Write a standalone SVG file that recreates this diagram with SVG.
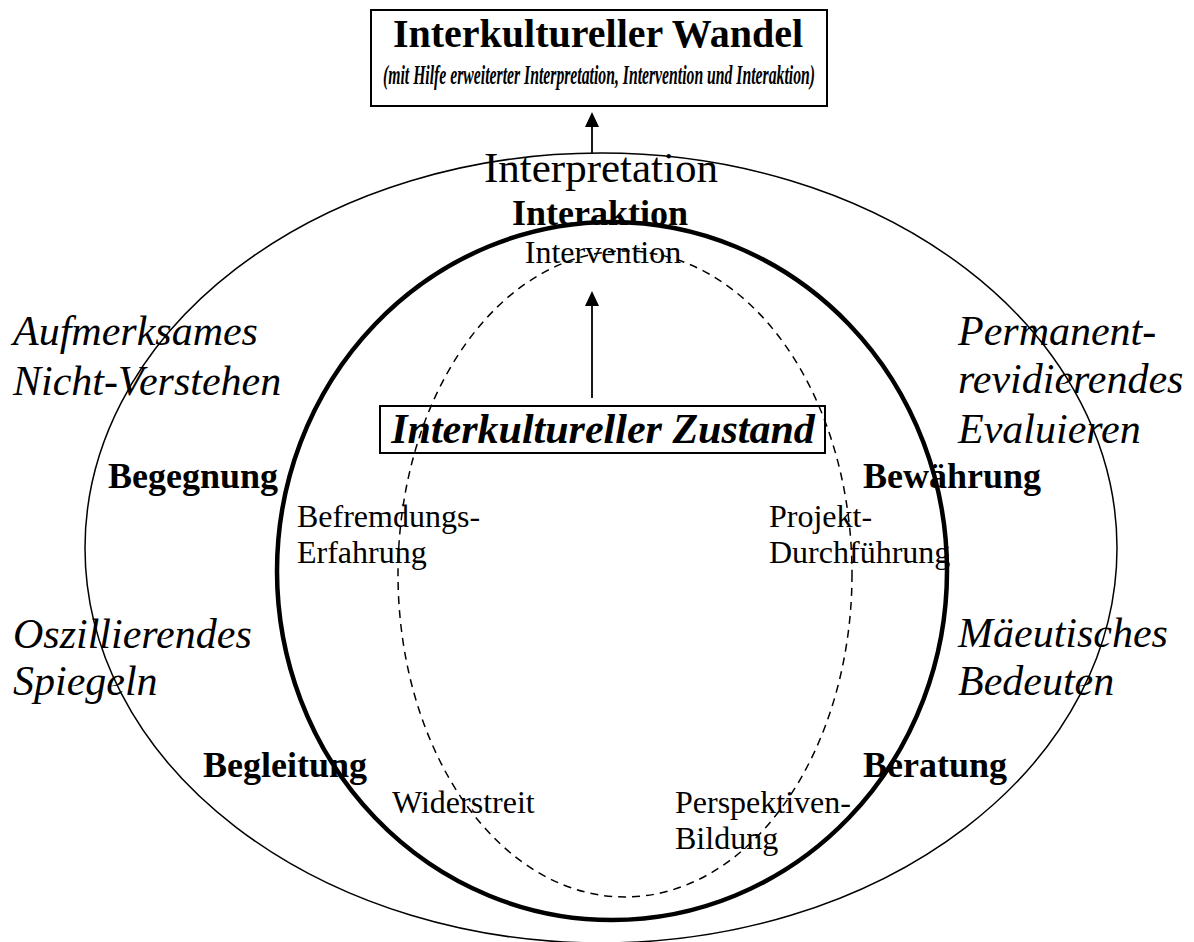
<svg xmlns="http://www.w3.org/2000/svg" width="1194" height="942" viewBox="0 0 1194 942">
<style>
text{font-family:"Liberation Serif","Times New Roman",serif;fill:#000}
.b{font-weight:bold}
.i{font-style:italic}
.big{font-size:42px}
.lab{font-size:36px;font-weight:bold}
.reg{font-size:32px}
.line{fill:none;stroke:#000}
</style>
<g id="shapes">
<ellipse id="outer" class="line" cx="601" cy="548" rx="516" ry="395" stroke-width="1.5"/>
<ellipse id="inner" class="line" cx="612" cy="571" rx="335" ry="349" stroke-width="4.5"/>
<ellipse id="dashed" class="line" cx="625" cy="574" rx="227" ry="323" stroke-width="1.5" stroke-dasharray="8,6"/>
</g>
<g id="connectors">
<line class="line" x1="592" y1="153" x2="592" y2="122" stroke-width="1.8"/>
<polygon points="592,112 585,127 599,127" fill="#000"/>
<line class="line" x1="592" y1="398" x2="592" y2="302" stroke-width="1.8"/>
<polygon points="592,291 585,306 599,306" fill="#000"/>
</g>
<g id="title">
<rect x="371" y="10" width="456" height="96" fill="#fff" stroke="#000" stroke-width="2"/>
<text x="598" y="47" text-anchor="middle" class="b" font-size="40">Interkultureller Wandel</text>
<text x="383" y="84" class="b i" font-size="28" textLength="432" lengthAdjust="spacingAndGlyphs">(mit Hilfe erweiterter Interpretation, Intervention und Interaktion)</text>
</g>
<g id="center">
<text x="601" y="182" text-anchor="middle" font-size="43">Interpretation</text>
<text x="600" y="225" text-anchor="middle" class="lab">Interaktion</text>
<text x="603" y="263" text-anchor="middle" class="reg">Intervention</text>
</g>
<g id="zustand">
<rect x="380" y="406" width="445" height="47" fill="none" stroke="#000" stroke-width="2"/>
<text x="603" y="443" text-anchor="middle" class="b i" font-size="42">Interkultureller Zustand</text>
</g>
<g id="left-top">
<text x="13" y="345" class="i big">Aufmerksames</text>
<text x="13" y="395" class="i big">Nicht-Verstehen</text>
</g>
<g id="right-top">
<text x="958" y="345" class="i big">Permanent-</text>
<text x="958" y="393" class="i big">revidierendes</text>
<text x="958" y="443" class="i big">Evaluieren</text>
</g>
<g id="left-mid">
<text x="13" y="648" class="i big">Oszillierendes</text>
<text x="13" y="695" class="i big">Spiegeln</text>
</g>
<g id="right-mid">
<text x="958" y="647" class="i big">Mäeutisches</text>
<text x="958" y="695" class="i big">Bedeuten</text>
</g>
<g id="begegnung">
<text x="108" y="488" class="lab">Begegnung</text>
<text x="297" y="527" class="reg">Befremdungs-</text>
<text x="297" y="563" class="reg">Erfahrung</text>
</g>
<g id="bewaehrung">
<text x="863" y="488" class="lab">Bewährung</text>
<text x="769" y="527" class="reg">Projekt-</text>
<text x="769" y="563" class="reg">Durchführung</text>
</g>
<g id="begleitung">
<text x="203" y="777" class="lab">Begleitung</text>
<text x="392" y="813" class="reg">Widerstreit</text>
</g>
<g id="beratung">
<text x="863" y="777" class="lab">Beratung</text>
<text x="675" y="813" class="reg">Perspektiven-</text>
<text x="675" y="849" class="reg">Bildung</text>
</g>
</svg>
